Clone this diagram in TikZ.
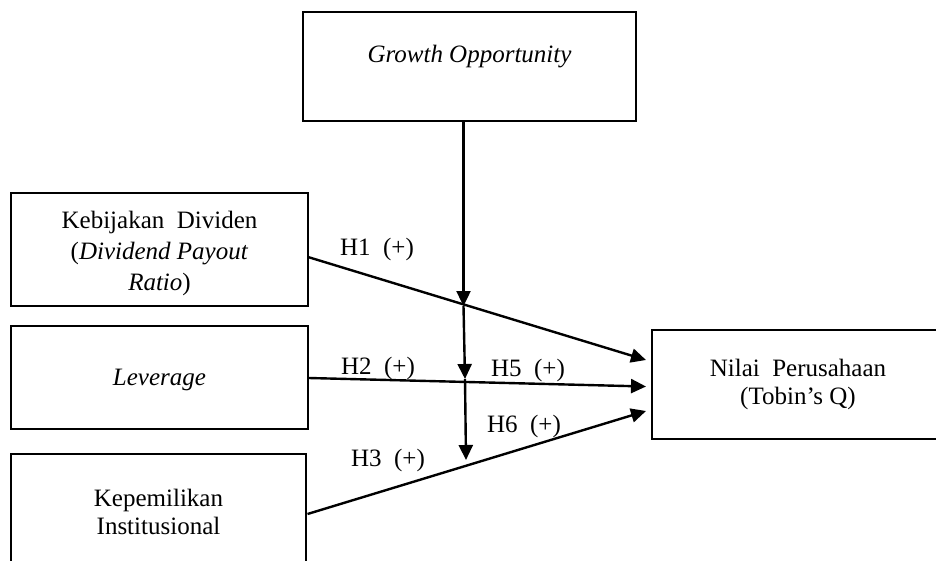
\documentclass[tikz,border=0pt]{standalone}
\usepackage{fontspec}
\setmainfont{Liberation Serif}
\usetikzlibrary{arrows.meta,calc}
\begin{document}
\begin{tikzpicture}[x=1pt,y=-1pt,
  box/.style={draw,line width=2.8pt,rectangle,inner sep=0pt,outer sep=0pt,align=center,
    font=\fontsize{25}{29}\selectfont},
  lbl/.style={font=\fontsize{25}{30}\selectfont,inner sep=0pt},
  conn/.style={line width=2.4pt,-{Triangle[length=15pt,width=14pt]}}]
\useasboundingbox (0,0) rectangle (936,560);
\clip (0,0) rectangle (936,560);
% boxes
\node[box,minimum width=333pt,minimum height=109pt] (go) at (469.5,66.5) {};
\node[lbl] (gotext) at (469.5,57) {\itshape Growth Opportunity};
\node[box,minimum width=297pt,minimum height=113pt] (kd) at (159.5,249.5) {};
\node[lbl,align=center,font=\fontsize{25}{31}\selectfont] (kdtext) at (159.5,253)
  {Kebijakan\ \ Dividen\\(\textit{Dividend Payout}\\\textit{Ratio})};
\node[box,minimum width=297pt,minimum height=103pt] (lev) at (159.5,377.5) {};
\node[lbl] (levtext) at (159.5,380) {\textit{Leverage}};
\node[box,minimum width=295pt,minimum height=116pt,font=\fontsize{25}{27.5}\selectfont] (ki) at (158.5,512)
  {Kepemilikan\\Institusional};
\node[box,minimum width=292pt,minimum height=109pt,font=\fontsize{25}{28}\selectfont] (np) at (798,384.5)
  {Nilai\ \ Perusahaan\\(Tobin’s Q)};
% main arrows
\draw[conn] ($(kd.east)+(0,7.5)$) -- ($(np.west)+(-6,-24.5)$);
\draw[conn] ($(lev.east)+(1,0.5)$) -- ($(np.west)+(-6,2)$);
\draw[conn] ($(ki.east)+(1.5,2)$) -- ($(np.west)+(-6,26.5)$);
% moderating arrows
\coordinate (m1) at (463.5,306);
\coordinate (m2) at (465,379);
\coordinate (m3) at (466,460);
\draw[conn] ($(go.south)+(-6,0)$) -- (m1);
\draw[conn] (m1) -- (m2);
\draw[conn] (m2) -- (m3);
% labels
\node[lbl] (h1) at (377,249) {H1\ \ (+)};
\node[lbl] (h2) at (378,368) {H2\ \ (+)};
\node[lbl] (h5) at (528,370) {H5\ \ (+)};
\node[lbl] (h6) at (524,426) {H6\ \ (+)};
\node[lbl] (h3) at (388,460) {H3\ \ (+)};
\end{tikzpicture}
\end{document}
